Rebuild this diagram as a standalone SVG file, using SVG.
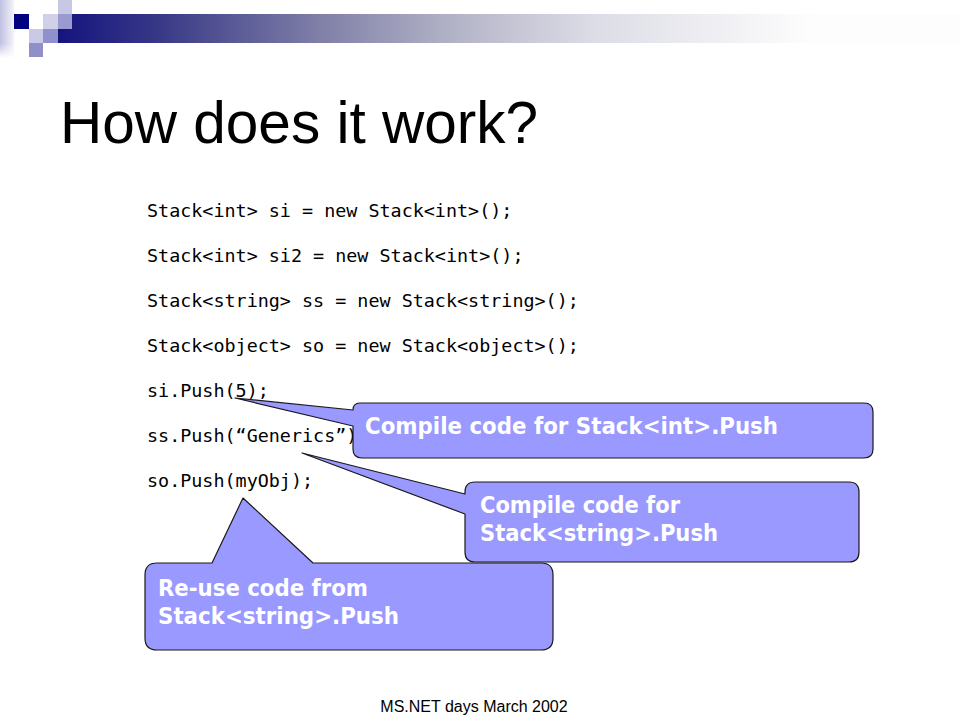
<svg xmlns="http://www.w3.org/2000/svg" width="960" height="720" viewBox="0 0 960 720">
<defs>
<linearGradient id="bar" gradientUnits="userSpaceOnUse" x1="58" y1="0" x2="810" y2="0">
<stop offset="0" stop-color="#14147e"/>
<stop offset="0.14" stop-color="#3a3a88"/>
<stop offset="0.35" stop-color="#8080a8"/>
<stop offset="0.53" stop-color="#b4b4c8"/>
<stop offset="0.71" stop-color="#dcdce6"/>
<stop offset="1" stop-color="#fdfdfd"/>
</linearGradient>
<linearGradient id="strip" x1="0" y1="0" x2="1" y2="0">
<stop offset="0" stop-color="#c0c0e2"/>
<stop offset="1" stop-color="#f4f4fa"/>
</linearGradient>
<linearGradient id="stripv" x1="0" y1="0" x2="0" y2="1">
<stop offset="0.75" stop-color="#fff" stop-opacity="0"/>
<stop offset="1" stop-color="#fff" stop-opacity="1"/>
</linearGradient>
</defs>
<style>
.code{font-family:"DejaVu Sans Mono","Liberation Mono",monospace;font-size:18.4px;fill:#000}
.call{fill:#9999ff;stroke:#1a1a1a;stroke-width:1.2;stroke-linejoin:round}
.ct{font-family:"DejaVu Sans","Liberation Sans",sans-serif;font-weight:bold;font-size:23px;fill:#fff}
</style>
<rect width="960" height="720" fill="#fff"/>
<g id="header">
<rect x="0" y="0" width="14" height="58" fill="url(#strip)"/>
<rect x="0" y="0" width="14" height="58" fill="url(#stripv)"/>
<rect x="72" y="14" width="888" height="15" fill="url(#bar)"/>
<rect x="58" y="29" width="902" height="14" fill="url(#bar)"/>
<rect x="14" y="14" width="15" height="15" fill="#000080"/>
<rect x="43" y="14" width="15" height="15" fill="#d0d0e8"/>
<rect x="58" y="0" width="14" height="14" fill="#c8c8e4"/>
<rect x="58" y="14" width="14" height="15" fill="#9a9ad0"/>
<rect x="29" y="29" width="14" height="14" fill="#cacae8"/>
<rect x="43" y="29" width="15" height="14" fill="#9090cc"/>
<rect x="29" y="43" width="14" height="14" fill="#9090c8"/>
</g>
<g id="title">
<text x="60" y="143" font-family="'Liberation Sans',Arial,sans-serif" font-size="58.5" fill="#000">How does it work?</text>
</g>
<g id="code">
<text class="code" x="147" y="217">Stack&lt;int&gt; si = new Stack&lt;int&gt;();</text>
<text class="code" x="147" y="262">Stack&lt;int&gt; si2 = new Stack&lt;int&gt;();</text>
<text class="code" x="147" y="307">Stack&lt;string&gt; ss = new Stack&lt;string&gt;();</text>
<text class="code" x="147" y="352">Stack&lt;object&gt; so = new Stack&lt;object&gt;();</text>
<text class="code" x="147" y="397">si.Push(5);</text>
<text class="code" x="147" y="442">ss.Push(“Generics”);</text>
<text class="code" x="147" y="487">so.Push(myObj);</text>
</g>
<g id="connectors">
</g>
<g id="callout1">
<path class="call" d="M360,403 H864 Q873,403 873,412 V449 Q873,458 864,458 H362 Q353,458 353,449 V426 L235,398 L353,410 Q353,403 360,403 Z"/>
<text class="ct" x="365" y="434" textLength="413" lengthAdjust="spacingAndGlyphs">Compile code for Stack&lt;int&gt;.Push</text>
</g>
<g id="callout2">
<path class="call" d="M475,482 H849 Q859,482 859,492 V552 Q859,562 849,562 H475 Q465,562 465,552 V514 L302,453 L465,494 V492 Q465,482 475,482 Z"/>
<text class="ct" x="480" y="513" textLength="200" lengthAdjust="spacingAndGlyphs">Compile code for</text>
<text class="ct" x="480" y="541" textLength="238" lengthAdjust="spacingAndGlyphs">Stack&lt;string&gt;.Push</text>
</g>
<g id="callout3">
<path class="call" d="M157,563 H212 L243,498 L313,563 H541 Q553,563 553,575 V638 Q553,650 541,650 H157 Q145,650 145,638 V575 Q145,563 157,563 Z"/>
<text class="ct" x="158" y="596" textLength="210" lengthAdjust="spacingAndGlyphs">Re-use code from</text>
<text class="ct" x="158" y="624" textLength="241" lengthAdjust="spacingAndGlyphs">Stack&lt;string&gt;.Push</text>
</g>
<g id="footer">
<text x="474" y="712" text-anchor="middle" font-family="'Liberation Sans',Arial,sans-serif" font-size="16" fill="#000">MS.NET days March 2002</text>
</g>
</svg>
